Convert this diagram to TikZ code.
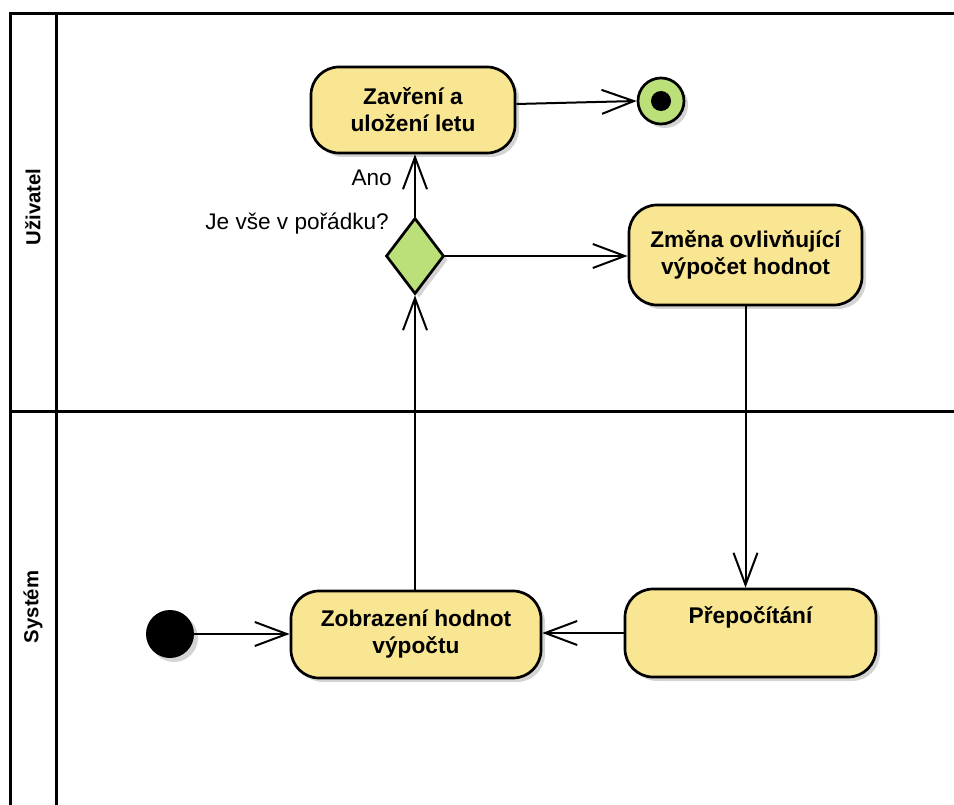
\documentclass[tikz,border=0pt]{standalone}
\usepackage{fontspec}
\setmainfont{Liberation Sans}
\usetikzlibrary{arrows.meta,shapes.geometric,shadows}
\definecolor{actfill}{RGB}{249,230,146}
\definecolor{decfill}{RGB}{187,224,122}
\definecolor{shade}{RGB}{212,212,212}
\tikzset{
  lane/.style={line width=3pt, line cap=rect},
  lanetitle/.style={rotate=90, font=\bfseries\fontsize{20.3}{24}\selectfont},
  softshadow/.style={drop shadow={shadow xshift=4pt, shadow yshift=-4pt, fill=shade, opacity=1}},
  activity/.style={rectangle, rounded corners=28pt, draw, line width=2.7pt, fill=actfill,
    softshadow, align=center, inner sep=0pt, font=\bfseries\fontsize{22.7}{27}\selectfont},
  decision/.style={diamond, draw, line width=2.7pt, fill=decfill, softshadow,
    inner sep=0pt, minimum width=58pt, minimum height=76pt},
  startnode/.style={circle, fill=black, inner sep=0pt, minimum size=48pt, softshadow},
  endnode/.style={circle, draw, line width=2.7pt, fill=decfill, inner sep=0pt, minimum size=46pt, softshadow},
  enddot/.style={circle, fill=black, inner sep=0pt, minimum size=20pt},
  flow/.style={line width=2pt, -{Straight Barb[length=32pt, width=24pt, line width=2pt]}},
  guard/.style={font=\fontsize{22.6}{27}\selectfont, inner sep=0pt}
}
\begin{document}
\begin{tikzpicture}[x=1pt, y=-1pt]
  \useasboundingbox (0,0) rectangle (954,805);

  % swimlane frame
  \draw[lane] (10,805) -- (10,14) -- (954,14);
  \draw[lane] (56,805) -- (56,14);
  \draw[lane] (10,411) -- (954,411);
  \node[lanetitle] (lane-user) at (33,207) {Uživatel};
  \node[lanetitle] (lane-sys) at (33,607) {Systém};

  % activities
  \node[activity, minimum width=204pt, minimum height=86pt] (zav) at (413,110) {Zavření a\\uložení letu};
  \node[activity, minimum width=233pt, minimum height=100pt] (zmena) at (745.5,255) {Změna ovlivňující\\výpočet hodnot};
  \node[activity, minimum width=250pt, minimum height=87pt] (zob) at (416,634.5) {Zobrazení hodnot\\výpočtu};
  \node[activity, minimum width=251pt, minimum height=88pt] (prep) at (750.5,633) {Přepočítání\\\strut};

  % control nodes
  \node[decision] (dia) at (415,256) {};
  \node[startnode] (init) at (170,634) {};
  \node[endnode] (fin) at (661,101) {};
  \node[enddot] (fin-dot) at (fin) {};

  % guard labels
  \node[guard, anchor=east] (lbl-ano) at (392,178) {Ano};
  \node[guard, anchor=east] (lbl-q) at (389,224) {Je vše v pořádku?};

  % transitions
  \draw[flow] (init) -- (zob.west |- init);
  \draw[flow] (zob.north -| dia) -- (dia.south);
  \draw[flow] (dia.north) -- (zav.south -| dia);
  \draw[flow] (dia.east) -- (zmena.west |- dia);
  \draw[flow] (zmena.south) -- (prep.north -| zmena);
  \draw[flow] (prep.west) -- (zob.east |- prep.west);
  \draw[flow] ([yshift=6pt]zav.east) -- (fin.west);
\end{tikzpicture}
\end{document}
